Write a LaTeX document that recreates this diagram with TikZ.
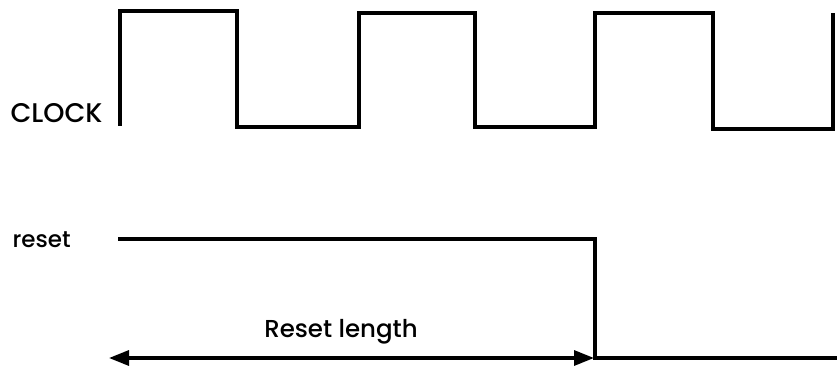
\documentclass[tikz,border=0pt]{standalone}
\usepackage{fontspec}
\setmainfont{Poppins}[UprightFont=* Medium]
\usetikzlibrary{arrows.meta}

\begin{document}
\begin{tikzpicture}[x=1pt, y=1pt, line width=3.2pt,
    sig/.style={line join=miter, line cap=butt},
    lbl/.style={inner sep=0pt, anchor=base west}]
  \useasboundingbox (0,0) rectangle (837,367);
  % --- CLOCK ---
  \node[lbl, font=\fontsize{27}{30}\selectfont] (clk) at (9,244) {CLOCK};
  \draw[sig] (120,241) -- (120,356) -- (237,356) -- (237,240) -- (359,240)
    -- (359,354) -- (475,354) -- (475,240) -- (595,240) -- (595,354)
    -- (713,354) -- (713,238) -- (833,238) -- (833,354);
  % --- reset ---
  \node[lbl, font=\fontsize{23}{26}\selectfont] (rst) at (11,120) {reset};
  \draw[sig] (118,128) -- (595,128) -- (595,9) -- (837,9);
  % --- Reset length ---
  \coordinate (rlstart) at (109,9);
  \coordinate (rlend) at (594,9);
  \draw[{Triangle[length=20pt,width=15pt]}-{Triangle[length=20pt,width=15pt]}] (rlstart) -- (rlend);
  \node[font=\fontsize{24.5}{28}\selectfont, inner sep=0pt, anchor=base] (rlen) at (341,30) {Reset length};
\end{tikzpicture}
\end{document}
